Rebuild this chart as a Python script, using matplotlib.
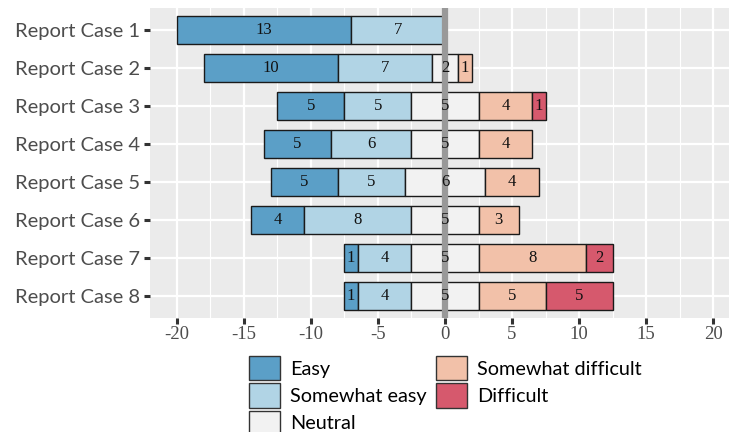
import matplotlib
matplotlib.use("Agg")
import matplotlib.pyplot as plt
from matplotlib.patches import Patch
import numpy as np

# data
cases = ["Report Case 1", "Report Case 2", "Report Case 3", "Report Case 4",
         "Report Case 5", "Report Case 6", "Report Case 7", "Report Case 8"]
levels = ["Easy", "Somewhat easy", "Neutral", "Somewhat difficult", "Difficult"]
easy = [13, 10, 5, 5, 5, 4, 1, 1]
somewhat_easy = [7, 7, 5, 6, 5, 8, 4, 4]
neutral = [0, 2, 5, 5, 6, 5, 5, 5]
somewhat_difficult = [0, 1, 4, 4, 4, 3, 8, 5]
difficult = [0, 0, 1, 0, 0, 0, 2, 5]
x_ticks = [-20, -15, -10, -5, 0, 5, 10, 15, 20]

colors = ["#5b9fc7", "#b1d4e5", "#f2f2f2", "#f2c1a9", "#d6596d"]

counts = np.array([easy, somewhat_easy, neutral, somewhat_difficult, difficult], dtype=float)

fig = plt.figure(figsize=(7.29, 4.32), dpi=100)
ax = fig.add_axes([150 / 729, 1 - 318 / 432, (740 - 150) / 729, 310 / 432])
ax.set_facecolor("#ebebeb")

ypos = np.arange(len(cases))
# left edge: everything on the negative side plus half of neutral
left = -(counts[0] + counts[1] + counts[2] / 2)
for i, lvl in enumerate(levels):
    vals = counts[i]
    for j in ypos:
        if vals[j] <= 0:
            continue
        ax.barh(j, vals[j], left=left[j], height=0.73, color=colors[i],
                edgecolor="#1a1a1a", linewidth=1.0, zorder=3)
        ax.text(left[j] + vals[j] / 2, j, f"{int(vals[j])}", ha="center", va="center",
                fontsize=12, family="Liberation Serif", color="#111111", zorder=5)
    left = left + vals

ax.axvline(0, color="#999999", linewidth=4.5, zorder=4)

ax.set_xlim(-22, 22)
ax.set_ylim(len(cases) - 0.42, -0.58)
ax.set_xticks(x_ticks)
ax.set_xticklabels([str(t) for t in x_ticks])
ax.set_xticks(np.arange(-17.5, 20, 5), minor=True)
ax.set_yticks(ypos)
ax.set_yticklabels(cases)

ax.grid(True, which="major", color="white", linewidth=1.6, zorder=0)
ax.grid(True, which="minor", axis="x", color="white", linewidth=0.8, zorder=0)
ax.set_axisbelow(True)
for s in ax.spines.values():
    s.set_visible(False)

ax.tick_params(axis="y", which="major", length=4, width=2.2, color="#333333", pad=3,
               labelsize=14.5, labelcolor="#4d4d4d")
ax.tick_params(axis="x", which="major", length=4, width=2.2, color="#333333", pad=2,
               labelsize=13.5, labelcolor="#4d4d4d")
ax.tick_params(axis="x", which="minor", length=0)
for lab in ax.get_yticklabels():
    lab.set_family("Lato")
for lab in ax.get_xticklabels():
    lab.set_family("Liberation Serif")

handles = [Patch(facecolor=c, edgecolor="#333333", linewidth=1.0, label=l)
           for c, l in zip(colors, levels)]
fig.legend(handles=handles, loc="upper left", bbox_to_anchor=(249 / 729, 1 - 356 / 432),
           ncol=2, frameon=False, prop={"family": "Lato", "size": 14.3},
           handlelength=1.55, handleheight=1.5, handletextpad=0.5,
           columnspacing=0.5, labelspacing=0.16, borderaxespad=0,
           borderpad=0)

fig.savefig("out.png", dpi=100)
